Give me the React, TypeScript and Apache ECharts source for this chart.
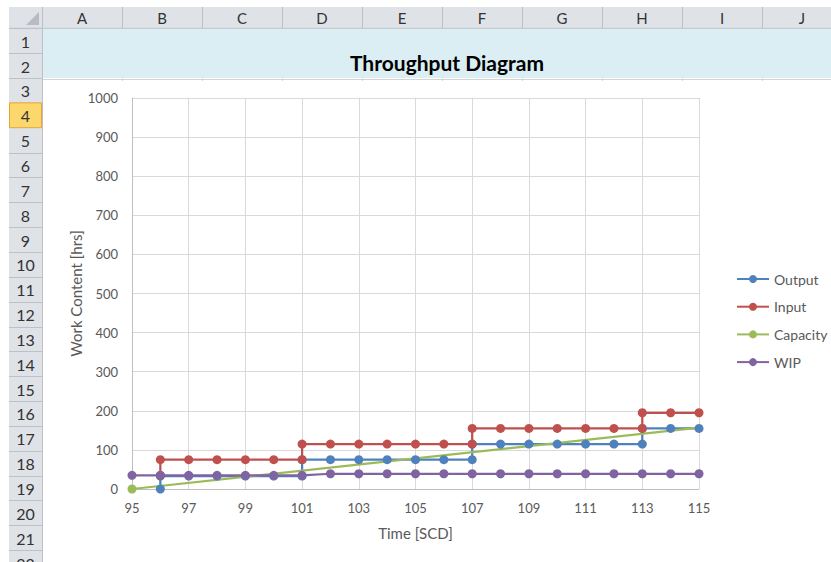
import React, { useEffect, useRef } from "react";
import * as echarts from "echarts";

// ---- Data ----
const seriesNames = ["Output", "Input", "Capacity", "WIP"];

const outputPoints: [number, number][] = [
  [96, 0], [96, 33], [97, 33], [98, 33], [99, 33], [100, 33], [101, 33],
  [101, 75], [102, 75], [103, 75], [104, 75], [105, 75], [106, 75], [107, 75],
  [107, 115], [108, 115], [109, 115], [110, 115], [111, 115], [112, 115], [113, 115],
  [113, 155], [114, 155], [115, 155],
];

const inputPoints: [number, number][] = [
  [96, 35], [96, 75], [97, 75], [98, 75], [99, 75], [100, 75], [101, 75],
  [101, 115], [102, 115], [103, 115], [104, 115], [105, 115], [106, 115], [107, 115],
  [107, 155], [108, 155], [109, 155], [110, 155], [111, 155], [112, 155], [113, 155],
  [113, 195], [114, 195], [115, 195],
];

const capacityPoints: [number, number][] = [
  [95, 0], [115, 157],
];

const wipPoints: [number, number][] = [
  [95, 35], [96, 35], [97, 35], [98, 35], [99, 35], [100, 35], [101, 35],
  [102, 39], [103, 39], [104, 39], [105, 39], [106, 39], [107, 39], [108, 39],
  [109, 39], [110, 39], [111, 39], [112, 39], [113, 39], [114, 39], [115, 39],
];

const columnLetters = ["A", "B", "C", "D", "E", "F", "G", "H", "I", "J"];
const rowNumbers = [1, 2, 3, 4, 5, 6, 7, 8, 9, 10, 11, 12, 13, 14, 15, 16, 17, 18, 19, 20, 21, 22];

const titleText = "Throughput Diagram";
const xAxisTitle = "Time [SCD]";
const yAxisTitle = "Work Content [hrs]";

// ---- Styles ----
const COLORS = ["#4F81BD", "#C0504D", "#9BBB59", "#8064A2"];
const FONT = "Lato, 'Open Sans', sans-serif";
const HEADER_FILL = "#DFE3E8";
const HEADER_LINE = "#BCC1C8";
const COL_X0 = 42;
const COL_W = 80;
const ROW_Y0 = 28.3;
const ROW_H = 24.85;
const HEAD_TOP = 7;

function buildSheetGraphics() {
  const els: any[] = [];
  // column header bar
  els.push({ type: "rect", shape: { x: 9, y: HEAD_TOP, width: 822, height: ROW_Y0 - HEAD_TOP }, style: { fill: HEADER_FILL }, silent: true });
  // row header column
  els.push({ type: "rect", shape: { x: 9, y: ROW_Y0, width: COL_X0 - 9, height: 562 - ROW_Y0 }, style: { fill: HEADER_FILL }, silent: true });
  // title band
  els.push({ type: "rect", shape: { x: COL_X0 + 0.5, y: ROW_Y0 + 0.5, width: 831 - COL_X0, height: 2 * ROW_H - 0.5 }, style: { fill: "#DAEEF3" }, silent: true });
  // small gridline stubs below the band
  for (let i = 1; i <= columnLetters.length; i++) {
    const x = COL_X0 + i * COL_W + 0.5;
    els.push({ type: "line", shape: { x1: x, y1: ROW_Y0 + 2 * ROW_H, x2: x, y2: ROW_Y0 + 2 * ROW_H + 3 }, style: { stroke: "#D8D8D8", lineWidth: 1 }, silent: true });
  }
  els.push({ type: "line", shape: { x1: COL_X0, y1: 79.5, x2: 831, y2: 79.5 }, style: { stroke: "#D4D4D4", lineWidth: 1 }, silent: true });
  // selected row highlight (row 4)
  els.push({ type: "rect", shape: { x: 9.5, y: ROW_Y0 + 3 * ROW_H, width: COL_X0 - 10, height: ROW_H }, style: { fill: "#FCD86C", stroke: "#E9A23B", lineWidth: 1 }, silent: true });
  // column separators in header
  for (let i = 0; i <= columnLetters.length; i++) {
    const x = COL_X0 + i * COL_W + 0.5;
    els.push({ type: "line", shape: { x1: x, y1: HEAD_TOP, x2: x, y2: ROW_Y0 }, style: { stroke: HEADER_LINE, lineWidth: 1 }, silent: true });
  }
  // row separators
  for (let r = 0; r <= rowNumbers.length; r++) {
    const y = Math.round(ROW_Y0 + r * ROW_H) + 0.5;
    if (r === 3 || r === 4) continue;
    els.push({ type: "line", shape: { x1: 9, y1: y, x2: COL_X0, y2: y }, style: { stroke: HEADER_LINE, lineWidth: 1 }, silent: true });
  }
  // header borders
  els.push({ type: "line", shape: { x1: 9, y1: ROW_Y0, x2: 831, y2: ROW_Y0 }, style: { stroke: HEADER_LINE, lineWidth: 1 }, silent: true });
  els.push({ type: "line", shape: { x1: COL_X0 + 0.5, y1: HEAD_TOP, x2: COL_X0 + 0.5, y2: 562 }, style: { stroke: HEADER_LINE, lineWidth: 1 }, silent: true });
  // corner triangle
  els.push({ type: "polygon", shape: { points: [[39, 12], [39, 25], [26, 25]] }, style: { fill: "#B8BCC2" }, silent: true });
  // column letters
  columnLetters.forEach((c, i) => {
    els.push({ type: "text", x: COL_X0 + i * COL_W + COL_W / 2, y: (HEAD_TOP + ROW_Y0) / 2 + 0.5, style: { text: c, fill: "#333333", font: `15px ${FONT}`, align: "center", verticalAlign: "middle" }, silent: true });
  });
  // row numbers
  rowNumbers.forEach((n, i) => {
    els.push({ type: "text", x: 25.5, y: ROW_Y0 + (i + 0.5) * ROW_H + 0.5, style: { text: String(n), fill: "#333333", font: `16px ${FONT}`, align: "center", verticalAlign: "middle" }, silent: true });
  });
  return els;
}

function lineSeries(name: string, data: any[], color: string) {
  return {
    name,
    type: "line",
    data,
    symbol: "circle",
    symbolSize: 9,
    showSymbol: true,
    lineStyle: { color, width: 2.25 },
    itemStyle: { color },
    emphasis: { disabled: true },
  };
}

export default function App() {
  const ref = useRef<HTMLDivElement>(null);
  useEffect(() => {
    if (!ref.current) return;
    const chart = echarts.init(ref.current, null, { renderer: "svg" });
    const capacityData = capacityPoints.map((p, i) =>
      i === capacityPoints.length - 1 ? { value: p, symbol: "none" } : { value: p }
    );
    chart.setOption({
      animation: false,
      backgroundColor: "#FFFFFF",
      textStyle: { fontFamily: FONT },
      title: {
        text: titleText,
        left: 442,
        textAlign: "center",
        top: 47,
        textStyle: { fontSize: 21, fontWeight: "bold", color: "#000000", fontFamily: FONT },
      },
      graphic: { elements: buildSheetGraphics() },
      legend: {
        orient: "vertical",
        left: 731,
        top: 267,
        itemWidth: 32,
        itemHeight: 10,
        itemGap: 13.7,
        data: seriesNames,
        textStyle: { fontSize: 14, color: "#595959", fontFamily: FONT },
        selectedMode: false,
      },
      grid: { left: 132, right: 132, top: 98, bottom: 73 },
      xAxis: {
        type: "value",
        min: 95,
        max: 115,
        interval: 2,
        name: xAxisTitle,
        nameLocation: "middle",
        nameGap: 36,
        nameTextStyle: { fontSize: 15, color: "#595959", fontFamily: FONT },
        axisLine: { show: true, lineStyle: { color: "#BFBFBF", width: 1 } },
        axisTick: { show: false },
        splitLine: { show: true, lineStyle: { color: "#D9D9D9", width: 1 } },
        axisLabel: { color: "#595959", fontSize: 13, margin: 12, fontFamily: FONT },
      },
      yAxis: {
        type: "value",
        min: 0,
        max: 1000,
        interval: 100,
        name: yAxisTitle,
        nameLocation: "middle",
        nameRotate: 90,
        nameGap: 49,
        nameMoveOverlap: false,
        nameTextStyle: { fontSize: 15, color: "#595959", fontFamily: FONT },
        axisLine: { show: true, lineStyle: { color: "#BFBFBF", width: 1 } },
        axisTick: { show: false },
        splitLine: { show: true, lineStyle: { color: "#D9D9D9", width: 1 } },
        axisLabel: { color: "#595959", fontSize: 13, margin: 14, fontFamily: FONT, formatter: (v: number) => String(v) },
      },
      series: [
        lineSeries(seriesNames[0], outputPoints, COLORS[0]),
        lineSeries(seriesNames[1], inputPoints, COLORS[1]),
        lineSeries(seriesNames[2], capacityData, COLORS[2]),
        lineSeries(seriesNames[3], wipPoints, COLORS[3]),
      ],
    });
    return () => chart.dispose();
  }, []);
  return (
    <div
      ref={ref}
      style={{ position: "fixed", left: 0, top: 0, width: 831, height: 562 }}
    />
  );
}
